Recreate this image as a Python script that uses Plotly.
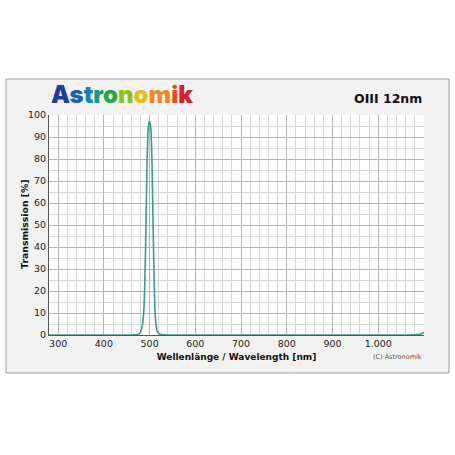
# -*- coding: utf-8 -*-
import plotly.graph_objects as go

# transmission curve of the OIII 12nm filter
wavelength = [280, 300, 400, 460, 470, 476, 480, 484, 487, 489, 491, 493,
              495, 497, 499, 501, 503, 505, 507, 509, 511, 513, 516, 520,
              526, 540, 600, 800, 1000, 1060, 1080, 1090, 1095, 1100]
transmission = [0, 0, 0, 0, 0.1, 0.4, 1.2, 4, 10, 20, 38, 62,
                83, 94, 97, 96.5, 93, 80, 58, 34, 16, 7, 2.2, 0.6,
                0.2, 0, 0, 0, 0, 0, 0.1, 0.3, 0.6, 1.3]

x_tick_vals = [300, 400, 500, 600, 700, 800, 900, 1000]
x_tick_text = ["300", "400", "500", "600", "700", "800", "900", "1.000"]
y_tick_vals = [0, 10, 20, 30, 40, 50, 60, 70, 80, 90, 100]

logo_letters = ["A", "s", "t", "r", "o", "n", "o", "m", "i", "k"]
logo_colors = ["#1f3f99", "#1f5fb0", "#1482b4", "#109a8c", "#2aa646",
               "#8cc220", "#e2c21a", "#f08a18", "#ea4a1c", "#e01e2a"]

FONT = "DejaVu Sans"
TEXT = "#222222"

fig = go.Figure()
fig.add_trace(go.Scatter(x=wavelength,
                         y=transmission,
                         mode="lines",
                         line={"color": "#3a9c8c", "width": 1.6,
                               "shape": "spline", "smoothing": 0.6},
                         hoverinfo="skip",
                         showlegend=False))

# outer light grey card behind the chart (paper coords of the plot area)
fig.add_shape(type="rect", xref="paper", yref="paper",
              x0=-0.1147, x1=1.0667, y0=-0.1727, y1=1.1636,
              fillcolor="#f2f2f2", line={"color": "#a0a0a0", "width": 1},
              layer="below")
fig.add_shape(type="rect", xref="paper", yref="paper",
              x0=0, x1=1, y0=0, y1=1,
              fillcolor="white", line={"width": 0},
              layer="below")

logo = "".join(f"<span style='color:{c}'>{l}</span>"
               for l, c in zip(logo_letters, logo_colors))
fig.add_annotation(xref="paper", yref="paper", x=0.0, y=1.02,
                   xanchor="left", yanchor="bottom", showarrow=False,
                   text=logo,
                   font={"family": "Inter", "size": 24, "weight": 900})
fig.add_annotation(xref="paper", yref="paper", x=1.0, y=1.03,
                   xanchor="right", yanchor="bottom", showarrow=False,
                   text="<b>OIII 12nm</b>",
                   font={"family": FONT, "size": 12.5, "color": "#111111"})
fig.add_annotation(xref="paper", yref="paper", x=1.0, y=-0.1,
                   xanchor="right", yanchor="middle", showarrow=False,
                   text="(C) Astronomik",
                   font={"family": FONT, "size": 6.5, "color": "#555555"})
# y axis title placed by hand, closer to the tick labels
fig.add_annotation(xref="paper", yref="paper", x=-0.064, y=0.505,
                   xanchor="center", yanchor="middle", showarrow=False,
                   textangle=-90,
                   text="<b>Transmission [%]</b>",
                   font={"family": FONT, "size": 9.3, "color": "#111111"})

fig.update_layout(width=455,
                  height=455,
                  margin={"l": 49, "r": 31, "t": 115, "b": 120},
                  paper_bgcolor="white",
                  plot_bgcolor="rgba(0,0,0,0)",
                  font={"family": FONT, "size": 9.5, "color": TEXT})
fig.update_xaxes(range=[280, 1100],
                 tickvals=x_tick_vals,
                 ticktext=x_tick_text,
                 tickfont={"size": 9.5, "color": TEXT},
                 ticks="", ticklen=0,
                 showgrid=True, gridcolor="#b4b4b4", gridwidth=1,
                 minor={"dtick": 20, "tick0": 280, "showgrid": True,
                        "gridcolor": "#d6d6d6", "gridwidth": 1},
                 showline=True, linecolor="#555555", linewidth=1,
                 mirror=False, zeroline=False,
                 title={"text": "<b>Wellenlänge / Wavelength [nm]</b>",
                        "font": {"size": 9, "color": "#111111"},
                        "standoff": 5})
fig.update_yaxes(range=[0, 100],
                 tickvals=y_tick_vals,
                 tickfont={"size": 9.5, "color": TEXT},
                 ticks="", ticklen=0,
                 showgrid=True, gridcolor="#b4b4b4", gridwidth=1,
                 minor={"dtick": 5, "showgrid": True,
                        "gridcolor": "#d6d6d6", "gridwidth": 1},
                 showline=True, linecolor="#555555", linewidth=1,
                 zeroline=False)

fig.write_html("out.html",
               config={"displayModeBar": False},
               post_script="document.body.style.margin='0';")
